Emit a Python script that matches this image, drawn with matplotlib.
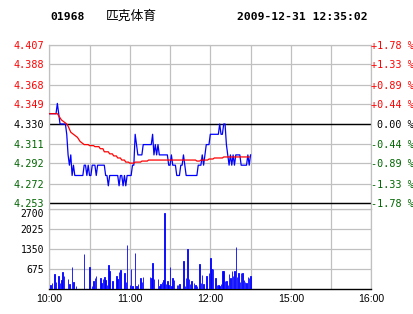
import matplotlib
matplotlib.use("Agg")
import matplotlib.pyplot as plt
import numpy as np

# ---------------- data ----------------
code = "01968"
name = "匹克体育"
stamp = "2009-12-31 12:35:02"
base_price = 4.330

price_ticks = [4.407, 4.388, 4.368, 4.349, 4.330, 4.311, 4.292, 4.272, 4.253]
price_labels = ["4.407", "4.388", "4.368", "4.349", "4.330", "4.311", "4.292", "4.272", "4.253"]
pct_labels = ["+1.78 %", "+1.33 %", "+0.89 %", "+0.44 %", "0.00 %", "-0.44 %", "-0.89 %", "-1.33 %", "-1.78 %"]

vol_ticks = [675, 1350, 2025, 2700]
time_labels = ["10:00", "11:00", "12:00", "15:00", "16:00"]

# minute-by-minute last price from 10:00 (minute 0) to 12:30 (minute 150)
price = (
    [4.34] * 6 + [4.35, 4.34] + [4.33] * 5 + [4.32, 4.30, 4.29, 4.30, 4.28, 4.29]
    + [4.28] * 7 + [4.29, 4.29, 4.28, 4.29, 4.28, 4.28, 4.29, 4.29, 4.29, 4.28]
    + [4.29] * 6 + [4.28, 4.28, 4.27] + [4.28] * 7
    + [4.27, 4.28, 4.28, 4.27, 4.28, 4.27] + [4.28] * 4 + [4.29, 4.29, 4.32, 4.31]
    + [4.30] * 4 + [4.31] * 7 + [4.32, 4.30, 4.31, 4.30, 4.31] + [4.30] * 7
    + [4.29, 4.29, 4.30, 4.29, 4.29, 4.29, 4.28, 4.28, 4.28, 4.29, 4.29, 4.30, 4.29]
    + [4.28] * 9 + [4.29] * 3 + [4.30, 4.29, 4.30, 4.31, 4.31, 4.31]
    + [4.32] * 7 + [4.33, 4.32, 4.32, 4.33, 4.33, 4.31, 4.30, 4.29, 4.30, 4.29, 4.30, 4.29]
    + [4.30] * 4 + [4.29] * 5 + [4.30, 4.29, 4.30]
)

# running average price (red line), one value per minute
avg_price = (
    [4.340] * 7 + [4.338, 4.336, 4.334, 4.333, 4.332, 4.331, 4.330, 4.328, 4.325,
                   4.322, 4.321, 4.320, 4.319, 4.318, 4.317, 4.315, 4.313, 4.312, 4.311]
    + [4.310] * 4 + [4.309] * 4 + [4.308] * 4 + [4.306] * 3 + [4.303] * 4
    + [4.301] * 3 + [4.299] * 3 + [4.297] * 3 + [4.295] * 3 + [4.293] * 3
    + [4.292] * 4 + [4.293] * 5 + [4.294] * 5 + [4.295] * 36 + [4.294] * 3
    + [4.295] * 6 + [4.296] * 4 + [4.297] * 7 + [4.298] * 20
)

vol_minutes = [1, 2, 4, 5, 7, 8, 9, 10, 11, 14, 15, 17, 18, 20, 26, 30, 32, 33, 34, 35,
               38, 39, 40, 41, 42, 43, 44, 45, 47, 50, 51, 52, 53, 56, 57, 58, 60, 61, 62, 64,
               65, 66, 68, 69, 70, 75, 76, 77, 78, 81, 82, 83, 84, 85, 86, 87, 88, 89, 90, 91,
               92, 93, 95, 96, 97, 100, 101, 102, 103, 104, 105, 106, 108, 109, 110, 112, 113, 114, 115, 117,
               119, 120, 121, 122, 124, 125, 126, 127, 128, 129, 130, 131, 132, 133, 134, 135, 136, 137, 138, 139,
               140, 141, 142, 143, 144, 145, 146, 147, 148, 149, 150]
vol_values = [112, 203, 484, 225, 416, 203, 281, 551, 416, 315, 146, 720, 214, 79, 1192, 720, 79, 247, 349, 416,
              349, 180, 315, 382, 293, 112, 787, 585, 247, 416, 315, 551, 619, 517, 214, 1496, 112, 652, 79, 1226,
              79, 146, 349, 214, 382, 382, 349, 855, 315, 315, 79, 146, 214, 281, 2576, 146, 247, 112, 720, 79,
              349, 281, 112, 112, 146, 922, 79, 349, 1361, 315, 146, 247, 180, 112, 79, 821, 180, 450, 146, 416,
              517, 1024, 652, 652, 349, 112, 112, 79, 146, 585, 585, 247, 247, 112, 484, 349, 585, 416, 585, 1429,
              382, 517, 214, 517, 517, 281, 214, 180, 382, 349, 416]


def trade_minute(label):
    h, m = map(int, label.split(":"))
    t = h * 60 + m
    if t <= 12 * 60 + 30:
        return t - 10 * 60
    return 150 + t - (14 * 60 + 30)


# ---------------- style ----------------
W, H = 414, 314
RED = "#FF0000"
GREEN = "#006600"
BLUE = "#0000FF"
GRID = "#C0C0C0"
MONO = "DejaVu Sans Mono"

fig = plt.figure(figsize=(W / 100, H / 100), dpi=100)
left_px, right_px = 49.3, 371.3
main_top, main_bot = 44.7, 209.3
vol_top, vol_bot = 209.3, 288.5

ax = fig.add_axes([left_px / W, 1 - main_bot / H, (right_px - left_px) / W, (main_bot - main_top) / H])
axv = fig.add_axes([left_px / W, 1 - vol_bot / H, (right_px - left_px) / W, (vol_bot - vol_top) / H])

xmax = trade_minute("16:00")
grid_x = np.arange(0, xmax + 1, 30)


def label_color(v):
    if abs(v - base_price) < 1e-9:
        return "black"
    return RED if v > base_price else GREEN


# ----- main price panel -----
ppu = (203.3 - 44.7) / (price_ticks[0] - price_ticks[-1])
ymin = price_ticks[-1] - (main_bot - 203.3) / ppu
ax.set_xlim(0, xmax)
ax.set_ylim(ymin, price_ticks[0])
ax.set_xticks(grid_x)
ax.set_xticklabels([])
ax.set_yticks(price_ticks)
ax.set_yticklabels(price_labels)
ax.tick_params(axis="both", length=0)
ax.tick_params(axis="y", pad=3.8, labelsize=7.3)
ax.grid(True, color=GRID, lw=0.9)
for v in (base_price, price_ticks[-1]):
    ax.axhline(v, color="black", lw=1.0, zorder=2)
for sp in ("top", "left", "right"):
    ax.spines[sp].set_color(GRID)
    ax.spines[sp].set_linewidth(0.9)
ax.spines["bottom"].set_visible(False)

for lab, v in zip(ax.get_yticklabels(), price_ticks):
    lab.set_fontfamily(MONO)
    lab.set_color(label_color(v))

minutes = np.arange(len(price))
ax.plot(minutes, price, color=BLUE, lw=0.9, zorder=3)
ax.plot(np.arange(len(avg_price)), avg_price, color=RED, lw=0.9, zorder=4)

ax2 = ax.twinx()
ax2.set_ylim(ax.get_ylim())
ax2.set_yticks(price_ticks)
ax2.set_yticklabels(pct_labels)
ax2.tick_params(axis="y", length=0, pad=(W - right_px) * 0.72, labelsize=7.3)
for lab, v in zip(ax2.get_yticklabels(), price_ticks):
    lab.set_fontfamily(MONO)
    lab.set_horizontalalignment("right")
    lab.set_color(label_color(v))
for sp in ax2.spines.values():
    sp.set_visible(False)

# ----- volume panel -----
axv.set_xlim(0, xmax)
axv.set_ylim(0, vol_ticks[-1])
axv.bar(vol_minutes, vol_values, width=0.35, color=BLUE, edgecolor=BLUE, lw=0.6, zorder=3)
axv.set_xticks(grid_x, minor=True)
axv.set_xticks([trade_minute(t) for t in time_labels])
axv.set_xticklabels(time_labels)
axv.set_yticks(vol_ticks)
axv.set_yticklabels([str(v) for v in vol_ticks])
axv.tick_params(axis="both", which="both", length=0)
axv.tick_params(axis="y", pad=3.8, labelsize=7.0)
axv.tick_params(axis="x", pad=4.0, labelsize=7.6)
vlabs = axv.get_yticklabels()
for lab in vlabs:
    lab.set_fontfamily(MONO)
vlabs[-1].set_verticalalignment("top")
for lab in axv.get_xticklabels():
    lab.set_fontfamily("Liberation Sans")
axv.grid(True, which="both", axis="x", color=GRID, lw=0.9)
axv.grid(True, which="major", axis="y", color=GRID, lw=0.9)
for sp in ("top", "left", "right"):
    axv.spines[sp].set_color(GRID)
    axv.spines[sp].set_linewidth(0.9)
axv.spines["bottom"].set_color("black")
axv.spines["bottom"].set_linewidth(1.0)

# ----- header -----
fig.text(50 / W, 1 - 17 / H, code, fontfamily=MONO, fontweight="bold", fontsize=8.2, va="center", ha="left")
fig.text(106 / W, 1 - 16.5 / H, name, fontfamily=["Noto Sans CJK SC", "DejaVu Sans"], fontsize=9.2,
         va="center", ha="left")
fig.text(237.5 / W, 1 - 17 / H, stamp, fontfamily=MONO, fontweight="bold", fontsize=8.2, va="center", ha="left")

fig.savefig("out.png", dpi=100)
